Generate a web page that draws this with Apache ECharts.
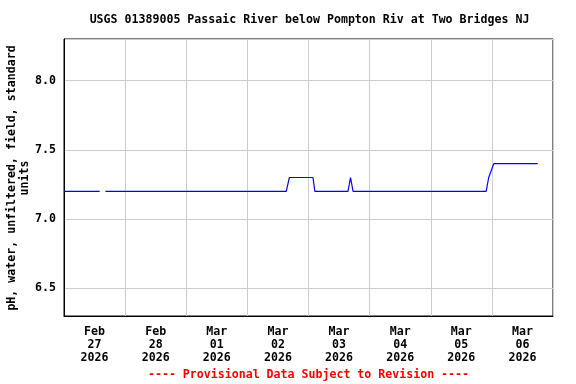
<!DOCTYPE html>
<html><head><meta charset="utf-8">
<script src="https://cdn.jsdelivr.net/npm/echarts@6/dist/echarts.min.js"></script>
<style>html,body{margin:0;padding:0;background:#fff}#c{width:576px;height:384px}</style>
</head><body><div id="c"></div>
<script>
// Day labels (centered at noon of each day)
var dayLabels = ["Feb\n27\n2026","Feb\n28\n2026","Mar\n01\n2026","Mar\n02\n2026","Mar\n03\n2026","Mar\n04\n2026","Mar\n05\n2026","Mar\n06\n2026"];
// Observation times (2026) and pH values; null marks the data gap
var obsTimes = ["02-27 00:00","02-27 14:00","02-27 15:00","02-27 16:15","03-02 15:15","03-02 16:30","03-03 01:45","03-03 02:30","03-03 15:30","03-03 16:30","03-03 17:30","03-05 21:45","03-05 22:45","03-05 23:15","03-06 00:45","03-06 18:00"];
var phValues = [7.2,7.2,null,7.2,7.2,7.3,7.3,7.2,7.2,7.3,7.2,7.2,7.3,7.3,7.4,7.4];
var yTicks = [6.5,7.0,7.5,8.0];

function toHours(s){
  var m = s.substr(0,2), d = parseInt(s.substr(3,2),10), hh = parseInt(s.substr(6,2),10), mm = parseInt(s.substr(9,2),10);
  var dayOff = (m === "02") ? (d - 27) : (2 + d - 1);
  return dayOff*24 + hh + mm/60;
}
var data = obsTimes.map(function(t,i){ return [toHours(t), phValues[i]]; });

var FONT = "DejaVu Sans Mono";
var FS = 11.6;
var chart = echarts.init(document.getElementById('c'), null, {renderer:'canvas'});
chart.setOption({
  animation:false,
  backgroundColor:'#fff',
  grid:{left:64,right:23,top:39,bottom:68,show:true,borderColor:'#000',borderWidth:1,containLabel:false},
  xAxis:[{
    type:'value',min:0,max:192,interval:24,position:'bottom',
    axisLine:{show:true,lineStyle:{color:'#000',width:1}},
    axisTick:{show:false},axisLabel:{show:false},
    splitLine:{show:true,lineStyle:{color:'#cccccc',width:1}}
  },{
    type:'category',data:dayLabels,position:'bottom',boundaryGap:true,
    axisLine:{show:false},axisTick:{show:false},splitLine:{show:false},
    axisLabel:{show:true,interval:0,margin:9,color:'#000',fontFamily:FONT,fontWeight:'bold',fontSize:FS,lineHeight:13,align:'center'}
  }],
  yAxis:{
    type:'value',min:6.3,max:8.3,splitNumber:4,
    axisLine:{show:true,lineStyle:{color:'#000'}},
    axisTick:{show:false},
    axisLabel:{showMinLabel:false,showMaxLabel:false,margin:8,color:'#000',fontFamily:FONT,fontWeight:'bold',fontSize:FS,
      formatter:function(v){ return yTicks.some(function(t){return Math.abs(t-v)<1e-6;}) ? v.toFixed(1) : ''; }},
    splitLine:{show:true,lineStyle:{color:'#cccccc',width:1}}
  },
  series:[{
    type:'line',xAxisIndex:0,data:data,showSymbol:false,connectNulls:false,
    lineStyle:{color:'#0000ff',width:1.2},itemStyle:{color:'#0000ff'}
  }],
  graphic:[
    {type:'text',x:309.5,y:20,style:{text:'USGS 01389005 Passaic River below Pompton Riv at Two Bridges NJ',fontFamily:FONT,fontWeight:'bold',fontSize:FS,fill:'#000',textAlign:'center',textVerticalAlign:'middle'}},
    {type:'text',x:18,y:178,rotation:Math.PI/2,style:{text:'pH, water, unfiltered, field, standard\nunits',fontFamily:FONT,fontWeight:'bold',fontSize:FS,lineHeight:13,fill:'#000',textAlign:'center',textVerticalAlign:'middle'}},
    {type:'text',x:308.5,y:375,style:{text:'---- Provisional Data Subject to Revision ----',fontFamily:FONT,fontWeight:'bold',fontSize:FS,fill:'#ff0000',textAlign:'center',textVerticalAlign:'middle'}}
  ]
});
</script></body></html>
